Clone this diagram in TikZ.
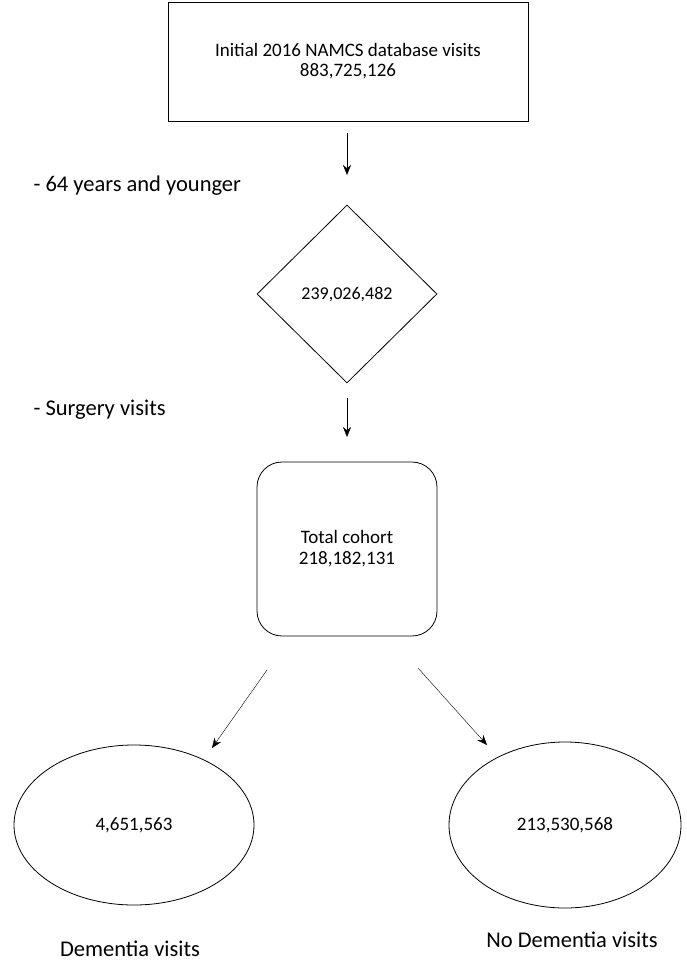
\documentclass[tikz,border=0pt]{standalone}
\usepackage{fontspec}
\setmainfont{Carlito}
\usetikzlibrary{shapes.geometric,arrows.meta}
\tikzset{
  box/.style={draw,thick,minimum width=360pt,minimum height=119pt,align=center,font=\fontsize{19}{20}\selectfont},
  diam/.style={draw,thick,diamond,minimum width=180pt,minimum height=178pt,inner sep=0pt,font=\fontsize{18}{20}\selectfont},
  rbox/.style={draw,thick,rounded corners=25pt,minimum width=180pt,minimum height=174pt,align=center,font=\fontsize{19}{21}\selectfont},
  oval/.style={draw,thick,ellipse,inner sep=0pt,font=\fontsize{19}{21}\selectfont},
  lbl/.style={anchor=west,font=\fontsize{22.5}{26}\selectfont},
  arr/.style={-{Stealth[length=10pt,width=8pt]},thin}
}
\begin{document}
\begin{tikzpicture}[x=1pt,y=-1pt]
  \useasboundingbox (0,0) rectangle (686,969);
  \node[box] (init) at (348,61.5) {Initial 2016 NAMCS database visits\\883,725,126};
  \node[diam] (age) at (347,294) {239,026,482};
  \node[rbox] (tot) at (347,549) {Total cohort\\218,182,131};
  \node[oval,minimum width=240pt,minimum height=160pt] (dem) at (134,825) {4,651,563};
  \node[oval,minimum width=232pt,minimum height=166pt] (nodem) at (565,825) {213,530,568};
  \node[lbl] (ex1) at (30,186) {- 64 years and younger};
  \node[lbl] (ex2) at (30,410) {- Surgery visits};
  \node[font=\fontsize{22.5}{26}\selectfont] (dlab) at (130,949) {Dementia visits};
  \node[font=\fontsize{22.5}{26}\selectfont] (nlab) at (572,940) {No Dementia visits};
  \coordinate (a1) at (347,133); \coordinate (a2) at (347,175);
  \coordinate (b1) at (347,398); \coordinate (b2) at (347,437);
  \coordinate (c1) at (267,670); \coordinate (c2) at (212,748);
  \coordinate (d1) at (418,668); \coordinate (d2) at (487,745);
  \draw[arr] (a1) -- (a2);
  \draw[arr] (b1) -- (b2);
  \draw[arr] (c1) -- (c2);
  \draw[arr] (d1) -- (d2);
\end{tikzpicture}
\end{document}
